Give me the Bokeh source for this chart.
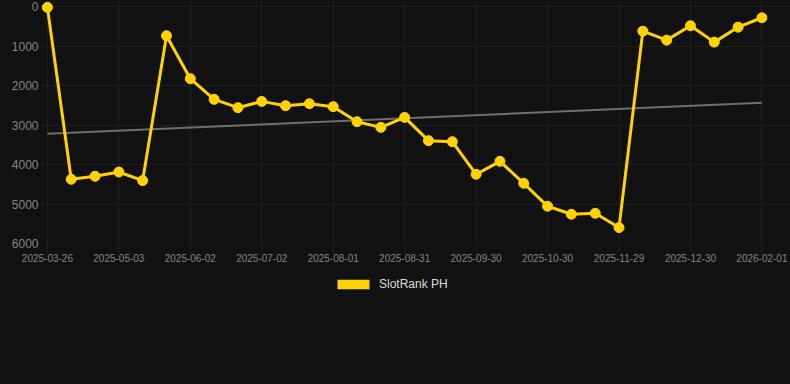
from bokeh.plotting import figure
from bokeh.layouts import column
from bokeh.models import (Range1d, FixedTicker, Legend, LegendItem, ColumnDataSource,
                          GlobalInlineStyleSheet)
from bokeh.embed import file_html
from bokeh.resources import INLINE
import numpy as np

# ---- data ----
tick_labels = ["2025-03-26", "2025-05-03", "2025-06-02", "2025-07-02", "2025-08-01",
               "2025-08-31", "2025-09-30", "2025-10-30", "2025-11-29", "2025-12-30",
               "2026-02-01"]
rank_values = [20, 4374, 4298, 4190, 4407, 739, 1827, 2350, 2561, 2401, 2510, 2459,
               2535, 2915, 3059, 2806, 3396, 3421, 4248, 3919, 4476, 5057, 5260,
               5235, 5597, 622, 850, 486, 900, 521, 283]
series_name = "SlotRank PH"
y_ticks = [0, 1000, 2000, 3000, 4000, 5000, 6000]

x_idx = list(range(len(rank_values)))
tick_step = 3
x_ticks = [i * tick_step for i in range(len(tick_labels))]

# linear trend
coef = np.polyfit(x_idx, rank_values, 1)
trend_x = [x_idx[0], x_idx[-1]]
trend_y = [float(np.polyval(coef, x)) for x in trend_x]

BG = "#111111"
GRID = "#1f1f1f"
GOLD = "#FFD200"
FONT = "Liberation Sans"

css = GlobalInlineStyleSheet(css="html, body { margin: 0 !important; padding: 0; background: #111111; overflow: hidden; }")

p = figure(width=790, height=270, output_backend="svg", toolbar_location=None,
           x_range=Range1d(-0.29, 31.2), y_range=Range1d(6000, -154),
           background_fill_color=BG, border_fill_color=BG, outline_line_color=None,
           min_border_left=40, min_border_right=0, min_border_top=0, min_border_bottom=27,
           stylesheets=[css])

# trend line
p.line(trend_x, trend_y, line_color="#6e6e6e", line_width=2)

src = ColumnDataSource(dict(x=x_idx, y=rank_values))
p.line("x", "y", source=src, line_color=GOLD, line_width=3)
p.scatter("x", "y", source=src, size=10, fill_color=GOLD, line_color=GOLD)

# axes
p.xaxis.ticker = FixedTicker(ticks=x_ticks)
p.xaxis.major_label_overrides = {t: lab for t, lab in zip(x_ticks, tick_labels)}
p.yaxis.ticker = FixedTicker(ticks=y_ticks)
for ax in (p.xaxis, p.yaxis):
    ax.axis_line_color = None
    ax.major_tick_line_color = GRID
    ax.major_tick_in = 0
    ax.minor_tick_line_color = None
    ax.major_label_text_font = FONT
    ax.major_label_text_color = "#858585"
p.xaxis.major_tick_out = 9
p.yaxis.major_tick_out = 2
p.xaxis.major_label_text_font_size = "10px"
p.yaxis.major_label_text_font_size = "12px"
p.xaxis.major_label_standoff = 1
p.yaxis.major_label_standoff = 0

p.xgrid.ticker = FixedTicker(ticks=x_ticks)
p.ygrid.ticker = FixedTicker(ticks=y_ticks)
p.grid.grid_line_color = GRID
p.grid.grid_line_width = 1

# legend strip below the chart (swatch renderer uses the series, zero-area, so it draws nothing itself)
lf = figure(width=790, height=114, output_backend="svg", toolbar_location=None,
            x_range=Range1d(-1000, -999), y_range=Range1d(-1000, -999),
            x_axis_location=None, y_axis_location=None,
            background_fill_color=BG, border_fill_color=BG, outline_line_color=None,
            min_border=0)
lf.grid.visible = False
r_swatch = lf.quad(left=x_idx, right=x_idx, bottom=rank_values, top=rank_values,
                   fill_color=GOLD, line_color=None)

legend = Legend(items=[LegendItem(label=series_name, renderers=[r_swatch])],
                location=(293, 93), orientation="horizontal",
                glyph_width=40, glyph_height=12, label_standoff=6,
                label_text_font=FONT, label_text_font_size="12px",
                label_text_color="#dddddd", background_fill_alpha=0,
                border_line_color=None, padding=0, margin=0, spacing=0)
lf.add_layout(legend, "center")

layout = column(p, lf, spacing=0)
open("out.html", "w").write(file_html(layout, INLINE))
